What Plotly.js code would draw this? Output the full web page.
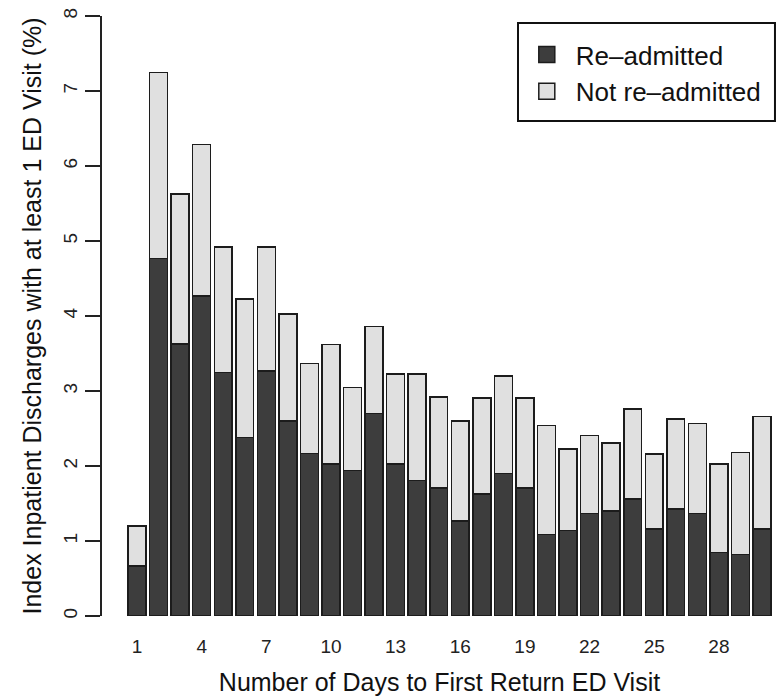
<!DOCTYPE html>
<html>
<head>
<meta charset="utf-8">
<script src="https://cdn.plot.ly/plotly-3.0.1.min.js"></script>
<style>html,body{margin:0;padding:0;background:#fff;}#chart{width:777px;height:698px;}</style>
</head>
<body>
<div id="chart"></div>
<script>
// Days to first return ED visit
const days = [1,2,3,4,5,6,7,8,9,10,11,12,13,14,15,16,17,18,19,20,21,22,23,24,25,26,27,28,29,30];
// Re-admitted (%)
const readmitted = [0.67,4.77,3.63,4.27,3.25,2.38,3.27,2.60,2.17,2.03,1.94,2.70,2.03,1.81,1.71,1.27,1.63,1.90,1.71,1.09,1.14,1.37,1.40,1.56,1.16,1.43,1.37,0.85,0.82,1.16];
// Not re-admitted (%)
const notReadmitted = [0.53,2.48,2.00,2.02,1.67,1.85,1.65,1.43,1.20,1.59,1.11,1.16,1.20,1.42,1.21,1.33,1.28,1.30,1.20,1.45,1.09,1.04,0.91,1.20,1.00,1.20,1.20,1.18,1.36,1.50];
const seriesNames = ["Re\u2013admitted", "Not re\u2013admitted"];
const xTickVals = [1,4,7,10,13,16,19,22,25,28];
const xTickText = ["1","4","7","10","13","16","19","22","25","28"];
const yTickVals = [0,1,2,3,4,5,6,7,8];

const fontFam = "Liberation Sans, Arial, Helvetica, sans-serif";
const lineCol = "#1c1c1c";
const darkFill = "#3d3d3d", lightFill = "#e0e0e0";

const traces = [
  {type:"bar", name:seriesNames[0], x:days, y:readmitted, showlegend:false,
   marker:{color:darkFill, line:{color:lineCol, width:1.5}}, hoverinfo:"x+y"},
  {type:"bar", name:seriesNames[1], x:days, y:notReadmitted, showlegend:false,
   marker:{color:lightFill, line:{color:lineCol, width:1.5}}, hoverinfo:"x+y"},
  // legend swatches
  {type:"scatter", mode:"markers", name:seriesNames[0], x:[null], y:[null],
   marker:{symbol:"square", size:16, color:darkFill, line:{color:lineCol, width:1.5}}},
  {type:"scatter", mode:"markers", name:seriesNames[1], x:[null], y:[null],
   marker:{symbol:"square", size:16, color:lightFill, line:{color:lineCol, width:1.5}}}
];

const layout = {
  width:777, height:698,
  margin:{l:102, r:0, t:16, b:82},
  paper_bgcolor:"#fff", plot_bgcolor:"#fff",
  barmode:"stack", bargap:0.17,
  font:{family:fontFam, color:"#1a1a1a"},
  showlegend:true,
  legend:{x:0.616, y:0.975, xanchor:"left", yanchor:"top", traceorder:"normal",
    bgcolor:"rgba(0,0,0,0)", borderwidth:0, itemsizing:"trace",
    font:{family:fontFam, size:26, color:"#111"}, itemwidth:48},
  shapes:[{type:"rect", xref:"paper", yref:"paper", x0:0.6163, x1:0.997, y0:0.825, y1:0.9883,
    line:{color:"#111", width:2}, fillcolor:"#fff", layer:"above"}],
  xaxis:{range:[-0.624,30.696], tickmode:"array", tickvals:xTickVals, ticktext:xTickText,
    showline:false, showgrid:false, zeroline:false, ticks:"outside", ticklen:13,
    tickcolor:"rgba(0,0,0,0)", tickfont:{size:19, color:"#222"},
    title:{text:"Number of Days to First Return ED Visit", font:{size:25, color:"#111"}, standoff:17}},
  yaxis:{range:[0,8], tickmode:"array", tickvals:yTickVals, showgrid:false, zeroline:false,
    showline:true, linecolor:"#222", linewidth:2, ticks:"outside", ticklen:15, tickwidth:2, tickcolor:"#222",
    tickangle:-90, tickfont:{size:19, color:"#222"},
    title:{text:"Index Inpatient Discharges with at least 1 ED Visit (%)", font:{size:25, color:"#111"}, standoff:12}}
};

Plotly.newPlot("chart", traces, layout, {displayModeBar:false, staticPlot:true});
</script>
</body>
</html>
